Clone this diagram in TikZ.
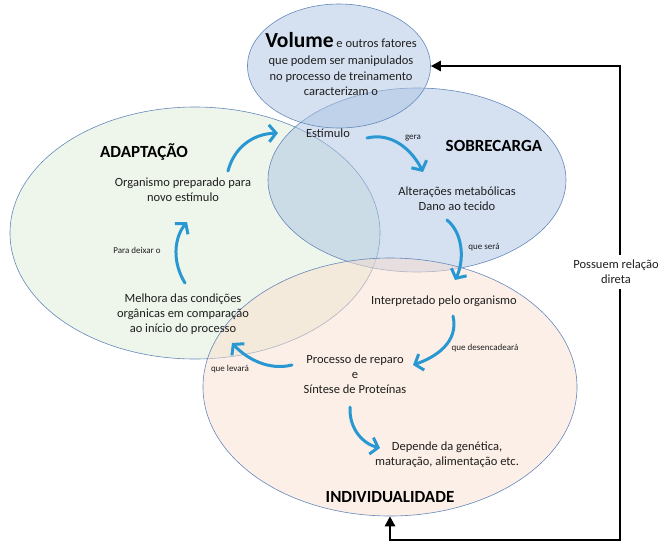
\documentclass[tikz,border=0pt]{standalone}
\usepackage{fontspec}
\setmainfont{Carlito}
\usetikzlibrary{shapes.geometric,arrows.meta}

\definecolor{zoneline}{RGB}{100,136,186}
\definecolor{bluezone}{RGB}{171,195,227}
\definecolor{greenzone}{RGB}{221,235,214}
\definecolor{peachzone}{RGB}{249,223,207}
\definecolor{flowblue}{RGB}{41,152,210}
\definecolor{ink}{RGB}{30,30,30}

\begin{document}
\begin{tikzpicture}[x=1pt,y=-1pt,
  zone/.style={ellipse, draw=zoneline, line width=0.6pt, fill opacity=0.5, inner sep=0pt},
  body/.style={font=\fontsize{12.5}{15.2}\selectfont, text=ink, align=center, inner sep=0pt},
  small/.style={font=\fontsize{9}{11}\selectfont, text=ink, inner sep=0pt},
  title/.style={font=\fontsize{17}{20}\selectfont\bfseries, text=black, inner sep=0pt},
  flow/.style={draw=flowblue, line width=3pt, line cap=round,
    -{Straight Barb[length=7pt,width=17pt,line width=3pt]}},
  link/.style={draw=black, line width=2.5pt,
    {Triangle[length=10pt,width=10pt]}-{Triangle[length=10pt,width=10pt]}}
]
\useasboundingbox (0,0) rectangle (661,544);

% the four overlapping zones
\node[zone, fill=greenzone, minimum width=370pt, minimum height=252pt] (adapt) at (195,233) {};
\node[zone, fill=bluezone, minimum width=298pt, minimum height=184pt] (sobre) at (417,180) {};
\node[zone, fill=peachzone, minimum width=374pt, minimum height=258pt] (indiv) at (390,387) {};
\node[zone, fill=bluezone, minimum width=183pt, minimum height=124pt] (vol) at (339,66) {};

% direct relation between Volume and Individualidade
\coordinate (bcorner) at (620,540);
\draw[link] (indiv.south) |- (bcorner) |- (vol.east);
\node[body, fill=white, inner xsep=1pt, inner ysep=5pt] (rel) at (616,272) {Possuem relação\\direta};

% texts
\node[body] (voltext) at (341,64) {{\fontsize{21.5}{22}\selectfont\bfseries\color{black}Volume} e outros fatores\\[2pt]que podem ser manipulados\\no processo de treinamento\\caracterizam o};
\node[body] (estim) at (328,133) {Estímulo};
\node[title] (tsobre) at (494,146) {SOBRECARGA};
\node[body] (alter) at (457,198.5) {Alterações metabólicas\\Dano ao tecido};
\node[body] (interp) at (444,301) {Interpretado pelo organismo};
\node[body] (proc) at (355,374) {Processo de reparo\\e\\Síntese de Proteínas};
\node[body] (dep) at (447,455) {Depende da genética,\\maturação, alimentação etc.};
\node[title] (tindiv) at (390,497) {INDIVIDUALIDADE};
\node[title] (tadapt) at (144,152) {ADAPTAÇÃO};
\node[body] (org) at (183,190) {Organismo preparado para\\novo estímulo};
\node[body] (melh) at (183,314) {Melhora das condições\\orgânicas em comparação\\ao início do processo};

\node[small] (lgera) at (413,138) {gera};
\node[small] (lsera) at (484,247) {que será};
\node[small] (ldesenc) at (485,348) {que desencadeará};
\node[small] (llevara) at (230,369) {que levará};
\node[small] (ldeixar) at (137,250) {Para deixar o};

% curved flow arrows
\coordinate (f1a) at (228,171); \coordinate (f1b) at (278,133);
\coordinate (f2a) at (367,138); \coordinate (f2b) at (423,172);
\coordinate (f3a) at (447,220); \coordinate (f3b) at (455,280);
\coordinate (f4a) at (453,316); \coordinate (f4b) at (413,365);
\coordinate (f5a) at (292,365); \coordinate (f5b) at (232,343);
\coordinate (f6a) at (185,283); \coordinate (f6b) at (187,222);
\coordinate (f7a) at (350,407); \coordinate (f7b) at (380,448);

\draw[flow] (f1a) .. controls (234,148) and (252,134) .. (f1b);
\draw[flow] (f2a) .. controls (392,132) and (412,150) .. (f2b);
\draw[flow] (f3a) .. controls (464,234) and (464,262) .. (f3b);
\draw[flow] (f4a) .. controls (459,342) and (436,357) .. (f4b);
\draw[flow] (f5a) .. controls (268,371) and (246,358) .. (f5b);
\draw[flow] (f6a) .. controls (172,262) and (174,238) .. (f6b);
\draw[flow] (f7a) .. controls (349,430) and (364,444) .. (f7b);
\end{tikzpicture}
\end{document}
